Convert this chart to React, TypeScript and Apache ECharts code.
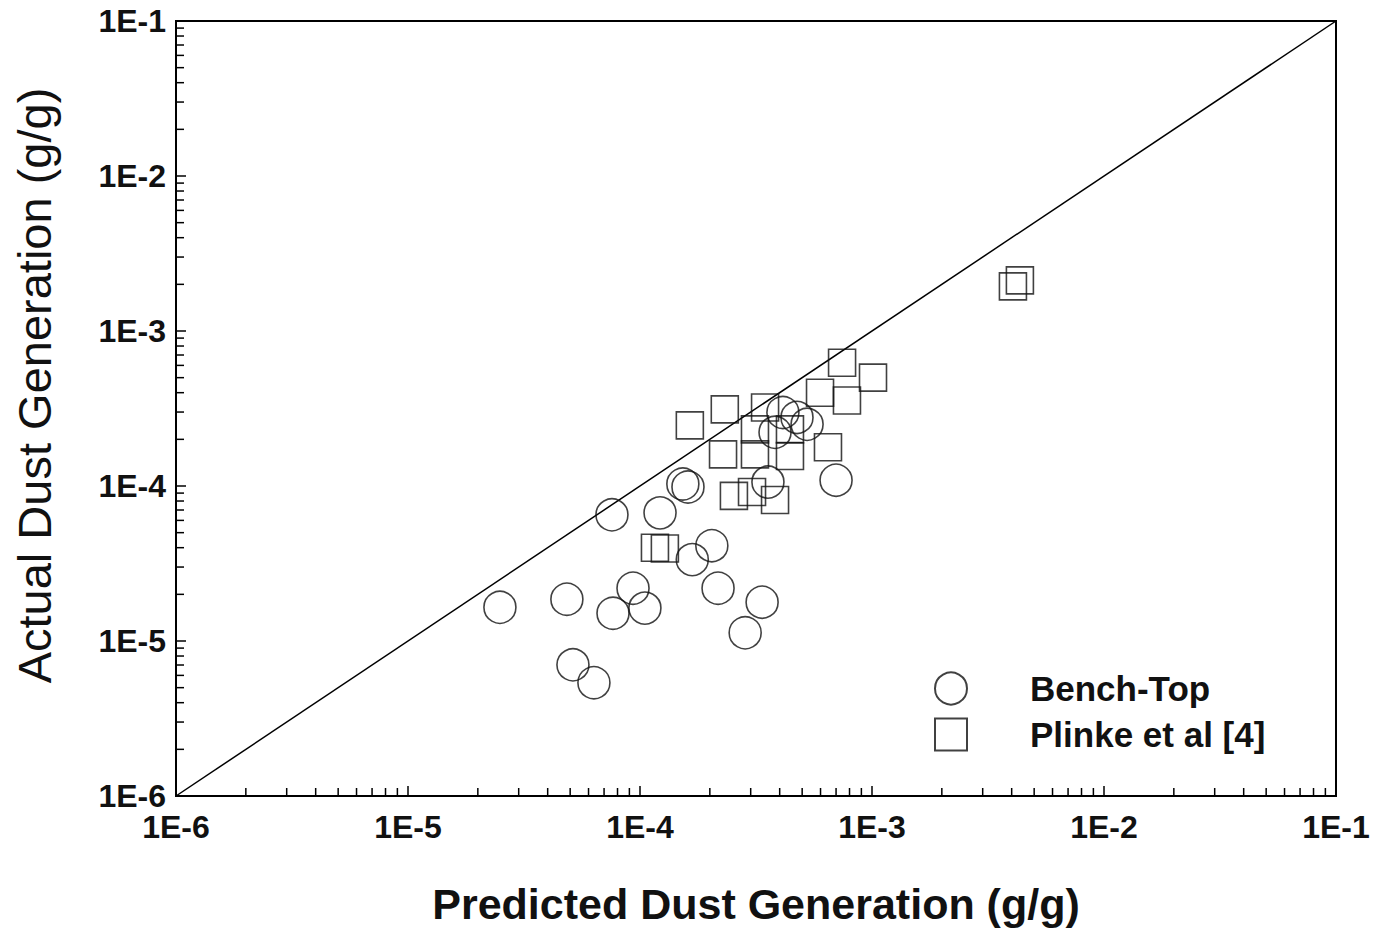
import React, { useEffect, useRef } from "react";
import * as echarts from "echarts";

// Bench-Top (circles): predicted (x) vs actual (y), g/g
const benchTopX = [
  2.49e-5, 4.84e-5, 5.14e-5, 6.33e-5, 7.57e-5, 7.65e-5, 9.33e-5, 1.05e-4,
  1.22e-4, 1.53e-4, 1.61e-4, 1.68e-4, 2.04e-4, 2.17e-4, 2.84e-4, 3.36e-4,
  3.56e-4, 7.0e-4, 4.13e-4, 4.75e-4, 5.25e-4, 3.82e-4,
];
const benchTopY = [
  1.65e-5, 1.86e-5, 7.02e-6, 5.38e-6, 6.52e-5, 1.51e-5, 2.19e-5, 1.63e-5,
  6.71e-5, 1.03e-4, 9.85e-5, 3.35e-5, 4.12e-5, 2.19e-5, 1.13e-5, 1.78e-5,
  1.06e-4, 1.09e-4, 2.98e-4, 2.77e-4, 2.5e-4, 2.22e-4,
];

// Plinke et al [4] (squares)
const plinkeX = [
  1.64e-4, 2.32e-4, 3.46e-4, 7.43e-4, 1.01e-3, 5.97e-4, 7.8e-4, 2.28e-4,
  3.13e-4, 4.43e-4, 6.46e-4, 2.54e-4, 3.04e-4, 3.82e-4, 1.16e-4, 1.28e-4,
  4.05e-3, 4.34e-3, 3.13e-4, 4.43e-4,
];
const plinkeY = [
  2.46e-4, 3.12e-4, 3.21e-4, 6.24e-4, 5.0e-4, 4.0e-4, 3.56e-4, 1.6e-4,
  1.6e-4, 1.56e-4, 1.78e-4, 8.63e-5, 9.15e-5, 8.13e-5, 4.0e-5, 3.95e-5,
  1.94e-3, 2.12e-3, 2.32e-4, 2.32e-4,
];

const xTickLabels = ["1E-6", "1E-5", "1E-4", "1E-3", "1E-2", "1E-1"];
const yTickLabels = ["1E-6", "1E-5", "1E-4", "1E-3", "1E-2", "1E-1"];
const decades = [1e-6, 1e-5, 1e-4, 1e-3, 1e-2];
const minorMultipliers = [2, 3, 4, 5, 6, 7, 8, 9];
const seriesNames = ["Bench-Top", "Plinke et al [4]"];
const axisMin = 1e-6;
const axisMax = 1e-1;
const diagonal = [
  [1e-6, 1e-6],
  [1e-1, 1e-1],
];

const FONT = "'Liberation Sans', Arial, Helvetica, sans-serif";

export default function App() {
  const ref = useRef<HTMLDivElement>(null);

  useEffect(() => {
    document.body.style.margin = "0";
    if (!ref.current) return;
    const chart = echarts.init(ref.current, null, { renderer: "svg" });

    const labelFor = (labels: string[]) => (v: number) => {
      const idx = Math.round(Math.log10(v)) + 6;
      return labels[idx] ?? "";
    };

    const minorTicks: number[][] = [];
    decades.forEach((d) =>
      minorMultipliers.forEach((m) => {
        minorTicks.push([d * m, axisMin, 0]);
        minorTicks.push([axisMin, d * m, 1]);
      })
    );

    const bench = benchTopX.map((x, i) => [x, benchTopY[i]]);
    const plinke = plinkeX.map((x, i) => [x, plinkeY[i]]);

    chart.setOption({
      animation: false,
      backgroundColor: "#fff",
      grid: {
        left: 176,
        right: 40,
        top: 21,
        bottom: 129,
        show: true,
        borderColor: "#000",
        borderWidth: 2,
        backgroundColor: "transparent",
      },
      legend: {
        data: seriesNames,
        orient: "vertical",
        left: 929,
        top: 666,
        itemWidth: 32,
        itemHeight: 32,
        itemGap: 11,
        textStyle: {
          fontFamily: FONT,
          fontWeight: "bold",
          fontSize: 35,
          color: "#111",
          padding: [16, 0, 0, 58],
        },
      },
      xAxis: {
        type: "log",
        logBase: 10,
        min: axisMin,
        max: axisMax,
        name: "Predicted Dust Generation (g/g)",
        nameLocation: "middle",
        nameGap: 86,
        nameTextStyle: {
          fontFamily: FONT,
          fontWeight: "bold",
          fontSize: 43,
          color: "#111",
        },
        axisLine: { show: true, lineStyle: { color: "#000", width: 2 } },
        axisTick: { show: true, inside: true, length: 10, lineStyle: { color: "#000", width: 1.5 } },
        axisLabel: {
          formatter: labelFor(xTickLabels),
          fontFamily: FONT,
          fontWeight: "bold",
          fontSize: 32,
          color: "#111",
          margin: 15,
        },
        splitLine: { show: false },
      },
      yAxis: {
        type: "log",
        logBase: 10,
        min: axisMin,
        max: axisMax,
        name: "Actual Dust Generation (g/g)",
        nameLocation: "middle",
        nameGap: 118,
        nameTextStyle: {
          fontFamily: FONT,
          fontSize: 47,
          color: "#111",
          padding: [0, 0, 0, 46],
        },
        axisLine: { show: true, lineStyle: { color: "#000", width: 2 } },
        axisTick: { show: true, inside: true, length: 10, lineStyle: { color: "#000", width: 1.5 } },
        axisLabel: {
          formatter: labelFor(yTickLabels),
          fontFamily: FONT,
          fontWeight: "bold",
          fontSize: 32,
          color: "#111",
          margin: 10,
          padding: [8, 0, 0, 0],
        },
        splitLine: { show: false },
      },
      series: [
        {
          name: "minorTicks",
          type: "custom",
          silent: true,
          clip: false,
          data: minorTicks,
          encode: { x: 0, y: 1 },
          renderItem: (params: any, api: any) => {
            const p = api.coord([api.value(0), api.value(1)]);
            const flag = api.value(2);
            const len = 8;
            const shape =
              flag === 0
                ? { x1: p[0], y1: p[1], x2: p[0], y2: p[1] - len }
                : { x1: p[0], y1: p[1], x2: p[0] + len, y2: p[1] };
            return {
              type: "line",
              shape,
              style: { stroke: "#000", lineWidth: 1.5 },
            };
          },
          z: 1,
        },
        {
          name: "diagonal",
          type: "line",
          data: diagonal,
          symbol: "none",
          silent: true,
          lineStyle: { color: "#000", width: 1.5 },
          z: 2,
        },
        {
          name: seriesNames[0],
          type: "scatter",
          symbol: "circle",
          symbolSize: 32,
          data: bench,
          itemStyle: { color: "rgba(0,0,0,0)", borderColor: "#111", borderWidth: 1.6 },
          z: 3,
        },
        {
          name: seriesNames[1],
          type: "scatter",
          symbol: "rect",
          symbolSize: 27,
          data: plinke,
          itemStyle: { color: "rgba(0,0,0,0)", borderColor: "#111", borderWidth: 1.6 },
          z: 3,
        },
      ],
    });

    return () => chart.dispose();
  }, []);

  return <div ref={ref} style={{ width: 1376, height: 930 }} />;
}
